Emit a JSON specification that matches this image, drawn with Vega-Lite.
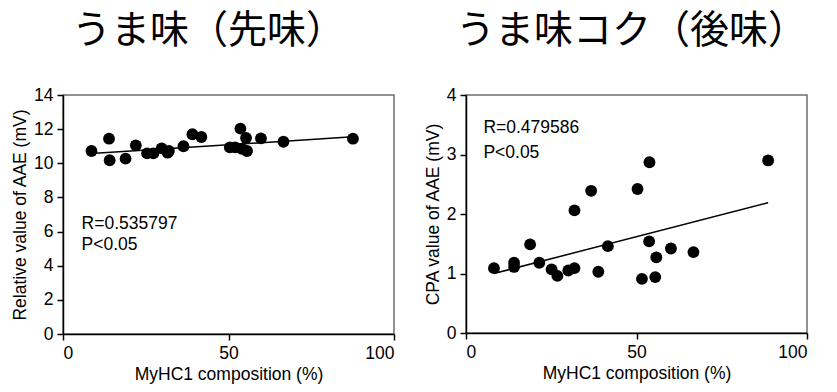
{
  "$schema": "https://vega.github.io/schema/vega-lite/v6.json",
  "background": "white",
  "padding": {"left": 10, "top": 11, "right": 0, "bottom": 0},
  "spacing": 27,
  "config": {
    "font": "Liberation Sans",
    "view": {"stroke": "#6e6e6e", "strokeWidth": 1.5},
    "axis": {
      "grid": false,
      "domainColor": "black",
      "domainWidth": 1.5,
      "tickColor": "black",
      "tickWidth": 1.5,
      "tickSize": 6,
      "labelColor": "black",
      "titleColor": "black",
      "labelFont": "Liberation Sans",
      "titleFont": "Liberation Sans",
      "labelFontSize": 17.5,
      "titleFontSize": 17.5,
      "titleFontWeight": "normal",
      "labelPadding": 4,
      "titlePadding": 4,
      "labelOverlap": false,
      "format": "d"
    },
    "title": {"font": "Noto Sans CJK JP", "fontSize": 39, "fontWeight": "normal", "color": "black", "anchor": "start", "frame": "group", "offset": 35}
  },
  "datasets": {
    "left": [
      {"x": 8.6, "y": 10.72},
      {"x": 13.9, "y": 11.44},
      {"x": 14.1, "y": 10.18},
      {"x": 18.9, "y": 10.27},
      {"x": 22.0, "y": 11.05},
      {"x": 25.4, "y": 10.58},
      {"x": 27.3, "y": 10.58},
      {"x": 29.8, "y": 10.87},
      {"x": 31.6, "y": 10.62},
      {"x": 32.0, "y": 10.72},
      {"x": 36.4, "y": 11.0},
      {"x": 39.1, "y": 11.7},
      {"x": 41.8, "y": 11.54},
      {"x": 50.4, "y": 10.93},
      {"x": 52.0, "y": 10.93},
      {"x": 53.6, "y": 12.03},
      {"x": 54.0, "y": 10.85},
      {"x": 55.3, "y": 11.48},
      {"x": 55.6, "y": 10.72},
      {"x": 59.8, "y": 11.46},
      {"x": 66.6, "y": 11.26},
      {"x": 87.6, "y": 11.44}
    ],
    "leftFit": [{"x": 8.6, "y": 10.57}, {"x": 87.6, "y": 11.55}],
    "leftText": [{"x": 5.6, "y": 6.45, "t": "R=0.535797"}, {"x": 5.6, "y": 5.2, "t": "P<0.05"}],
    "right": [
      {"x": 8.2, "y": 1.09},
      {"x": 14.1, "y": 1.18},
      {"x": 14.1, "y": 1.11},
      {"x": 18.8, "y": 1.49},
      {"x": 21.5, "y": 1.18},
      {"x": 25.1, "y": 1.07},
      {"x": 26.8, "y": 0.96},
      {"x": 30.0, "y": 1.05},
      {"x": 31.8, "y": 1.09},
      {"x": 31.8, "y": 2.06},
      {"x": 36.7, "y": 2.39},
      {"x": 38.8, "y": 1.03},
      {"x": 41.6, "y": 1.46},
      {"x": 50.3, "y": 2.42},
      {"x": 51.6, "y": 0.91},
      {"x": 53.8, "y": 2.87},
      {"x": 53.7, "y": 1.54},
      {"x": 55.5, "y": 0.94},
      {"x": 55.8, "y": 1.27},
      {"x": 60.1, "y": 1.42},
      {"x": 66.7, "y": 1.36},
      {"x": 88.6, "y": 2.9}
    ],
    "rightFit": [{"x": 8.2, "y": 1.0}, {"x": 88.6, "y": 2.19}],
    "rightText": [{"x": 5.1, "y": 3.45, "t": "R=0.479586"}, {"x": 5.1, "y": 3.03, "t": "P<0.05"}]
  },
  "hconcat": [
    {
      "title": {"text": "うま味（先味）", "dx": 9},
      "width": 331,
      "height": 239,
      "encoding": {
        "x": {"field": "x", "type": "quantitative", "scale": {"domain": [0, 100]}, "axis": {"values": [0, 50, 100], "title": "MyHC1 composition (%)", "labelOverlap": false}},
        "y": {"field": "y", "type": "quantitative", "scale": {"domain": [0, 14]}, "axis": {"values": [0, 2, 4, 6, 8, 10, 12, 14], "tickCount": 8, "title": "Relative value of AAE (mV)", "labelOverlap": false, "format": "d"}}
      },
      "layer": [
        {
          "data": {"name": "left"},
          "mark": {"type": "circle", "size": 140, "color": "black", "opacity": 1}
        },
        {
          "data": {"name": "leftFit"},
          "mark": {"type": "line", "color": "black", "strokeWidth": 1.5}
        },
        {
          "data": {"name": "leftText"},
          "mark": {"type": "text", "align": "left", "baseline": "middle", "fontSize": 17.5, "font": "Liberation Sans", "color": "black"},
          "encoding": {
            "text": {"field": "t"}
          }
        }
      ]
    },
    {
      "title": {"text": "うま味コク（後味）", "dx": -10},
      "width": 341,
      "height": 238,
      "encoding": {
        "x": {"field": "x", "type": "quantitative", "scale": {"domain": [0, 100]}, "axis": {"values": [0, 50, 100], "title": "MyHC1 composition (%)", "labelOverlap": false}},
        "y": {"field": "y", "type": "quantitative", "scale": {"domain": [0, 4]}, "axis": {"values": [0, 1, 2, 3, 4], "title": "CPA value of AAE (mV)", "labelOverlap": false, "format": "d"}}
      },
      "layer": [
        {
          "data": {"name": "right"},
          "mark": {"type": "circle", "size": 140, "color": "black", "opacity": 1}
        },
        {
          "data": {"name": "rightFit"},
          "mark": {"type": "line", "color": "black", "strokeWidth": 1.5}
        },
        {
          "data": {"name": "rightText"},
          "mark": {"type": "text", "align": "left", "baseline": "middle", "fontSize": 17.5, "font": "Liberation Sans", "color": "black"},
          "encoding": {
            "text": {"field": "t"}
          }
        }
      ]
    }
  ]
}
